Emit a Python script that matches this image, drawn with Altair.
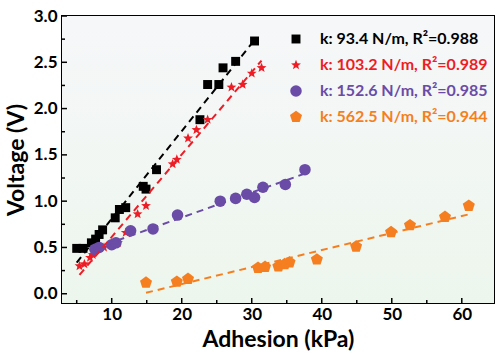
import altair as alt
import pandas as pd

# ---------------- data ----------------
labels = [
    "k: 93.4 N/m, R²=0.988",
    "k: 103.2 N/m, R²=0.989",
    "k: 152.6 N/m, R²=0.985",
    "k: 562.5 N/m, R²=0.944",
]
colors = ["#000000", "#ee1c25", "#6a4ba6", "#f57f20"]

black_x = [5.0, 5.9, 7.1, 7.7, 8.2, 8.7, 10.5, 11.1, 12.0, 14.5, 14.9, 16.4, 22.6, 23.7, 25.3, 25.9, 27.7, 30.4]
black_y = [0.49, 0.49, 0.55, 0.59, 0.64, 0.69, 0.82, 0.91, 0.93, 1.16, 1.13, 1.34, 1.88, 2.26, 2.26, 2.44, 2.51, 2.73]

red_x = [5.4, 6.1, 6.9, 7.3, 8.9, 10.9, 12.0, 13.7, 14.9, 18.7, 19.3, 20.9, 22.1, 23.7, 27.1, 28.7, 30.0, 31.4]
red_y = [0.30, 0.32, 0.39, 0.42, 0.50, 0.55, 0.66, 0.86, 0.95, 1.40, 1.45, 1.68, 1.77, 1.88, 2.23, 2.26, 2.38, 2.44]

purple_x = [7.6, 8.2, 10.0, 10.6, 12.7, 15.9, 19.4, 25.5, 27.7, 29.3, 30.4, 31.6, 34.8, 37.6]
purple_y = [0.48, 0.50, 0.53, 0.55, 0.68, 0.70, 0.85, 1.00, 1.03, 1.075, 1.04, 1.15, 1.18, 1.34]

orange_x = [14.9, 19.3, 20.9, 30.9, 31.9, 33.8, 34.7, 35.4, 39.3, 44.9, 49.9, 52.6, 57.6, 61.0]
orange_y = [0.12, 0.13, 0.16, 0.28, 0.29, 0.295, 0.32, 0.34, 0.37, 0.51, 0.665, 0.74, 0.83, 0.95]

x_major = [10, 20, 30, 40, 50, 60]
x_minor = [5, 15, 25, 35, 45, 55]
y_major = [0.0, 0.5, 1.0, 1.5, 2.0, 2.5, 3.0]
y_minor = [0.25, 0.75, 1.25, 1.75, 2.25, 2.75]

# ---------------- build tables ----------------
rows = []
for lab, xs, ys in zip(labels, [black_x, red_x, purple_x, orange_x], [black_y, red_y, purple_y, orange_y]):
    for a, b in zip(xs, ys):
        rows.append({"series": lab, "x": a, "y": b})
df = pd.DataFrame(rows)

W, H = 432, 287
STAR = "M0,-1L0.26,-0.34L0.951,-0.309L0.41,0.13L0.588,0.809L0,0.42L-0.588,0.809L-0.41,0.13L-0.951,-0.309L-0.26,-0.34Z"
PENT = "M0,-1L0.951,-0.309L0.588,0.809L-0.588,0.809L-0.951,-0.309Z"
shapes = ["square", STAR, "circle", PENT]

xscale = alt.Scale(domain=[2.9, 64.6], nice=False, zero=False)
yscale = alt.Scale(domain=[-0.1, 3.0], nice=False, zero=False)
color_scale = alt.Scale(domain=labels, range=colors)

FONT = "Lato"

xaxis = alt.Axis(title="Adhesion (kPa)", values=x_major, ticks=False, domain=False,
                 grid=False, labelPadding=3, titlePadding=6)
yaxis = alt.Axis(title="Voltage (V)", values=y_major, format=".1f", ticks=False,
                 domain=False, grid=False, labelPadding=5, titlePadding=5)

label_color_expr = (
    "[" + ",".join("'%s'" % c for c in colors) + "][indexof(["
    + ",".join("'%s'" % l for l in labels) + "], datum.value)]"
)

bg = alt.Chart(pd.DataFrame({"a": [0]})).mark_rect(
    color=alt.LinearGradient(
        gradient="linear", x1=0, y1=0, x2=0, y2=1,
        stops=[alt.GradientStop(offset=0, color="#f6f7f9"),
               alt.GradientStop(offset=1, color="#edf6ed")],
    )
).encode(x=alt.value(0), x2=alt.value(W), y=alt.value(0), y2=alt.value(H))

points = alt.Chart(df).mark_point(filled=True, opacity=1).encode(
    x=alt.X("x:Q", scale=xscale, axis=xaxis),
    y=alt.Y("y:Q", scale=yscale, axis=yaxis),
    color=alt.Color("series:N", scale=color_scale, sort=labels,
                    legend=alt.Legend(title=None, orient="none", legendX=226, legendY=15,
                                      labelFont=FONT, labelFontWeight="bold", labelFontSize=16,
                                      labelColor=alt.ExprRef(expr=label_color_expr),
                                      symbolSize=60, rowPadding=10, labelOffset=16,
                                      symbolStrokeWidth=0, labelLimit=400)),
    shape=alt.Shape("series:N", scale=alt.Scale(domain=labels, range=shapes), sort=labels),
    size=alt.Size("series:N", scale=alt.Scale(domain=labels, range=[80, 160, 95, 115]), legend=None),
)

lines = alt.Chart(df).transform_regression("x", "y", groupby=["series"]).mark_line(
    strokeWidth=2, strokeDash=[7, 5]
).encode(
    x=alt.X("x:Q", scale=xscale, axis=xaxis),
    y=alt.Y("y:Q", scale=yscale, axis=yaxis),
    color=alt.Color("series:N", scale=color_scale, legend=None),
)

xt_major = alt.Chart(pd.DataFrame({"x": x_major})).mark_rule(color="black", strokeWidth=1.5).encode(
    x=alt.X("x:Q", scale=xscale, axis=xaxis), y=alt.value(H), y2=alt.value(H - 5))
xt_minor = alt.Chart(pd.DataFrame({"x": x_minor})).mark_rule(color="black", strokeWidth=1.5).encode(
    x=alt.X("x:Q", scale=xscale, axis=xaxis), y=alt.value(H), y2=alt.value(H - 3))
yt_major = alt.Chart(pd.DataFrame({"y": y_major})).mark_rule(color="black", strokeWidth=1.5).encode(
    y=alt.Y("y:Q", scale=yscale, axis=yaxis), x=alt.value(0), x2=alt.value(5))
yt_minor = alt.Chart(pd.DataFrame({"y": y_minor})).mark_rule(color="black", strokeWidth=1.5).encode(
    y=alt.Y("y:Q", scale=yscale, axis=yaxis), x=alt.value(0), x2=alt.value(3))

chart = alt.layer(bg, points, lines, xt_major, xt_minor, yt_major, yt_minor).properties(
    width=W, height=H,
    autosize=alt.AutoSizeParams(type="none"),
    padding={"left": 62, "top": 16, "right": 6, "bottom": 51},
    background="white",
).configure_view(
    stroke="black", strokeWidth=2
).configure_axis(
    labelFont=FONT, labelFontWeight="bold", labelFontSize=17, labelColor="black",
    titleFont=FONT, titleFontWeight="bold", titleFontSize=23, titleColor="black",
)

chart.save("out.html", embed_options={"renderer": "svg", "actions": False})
